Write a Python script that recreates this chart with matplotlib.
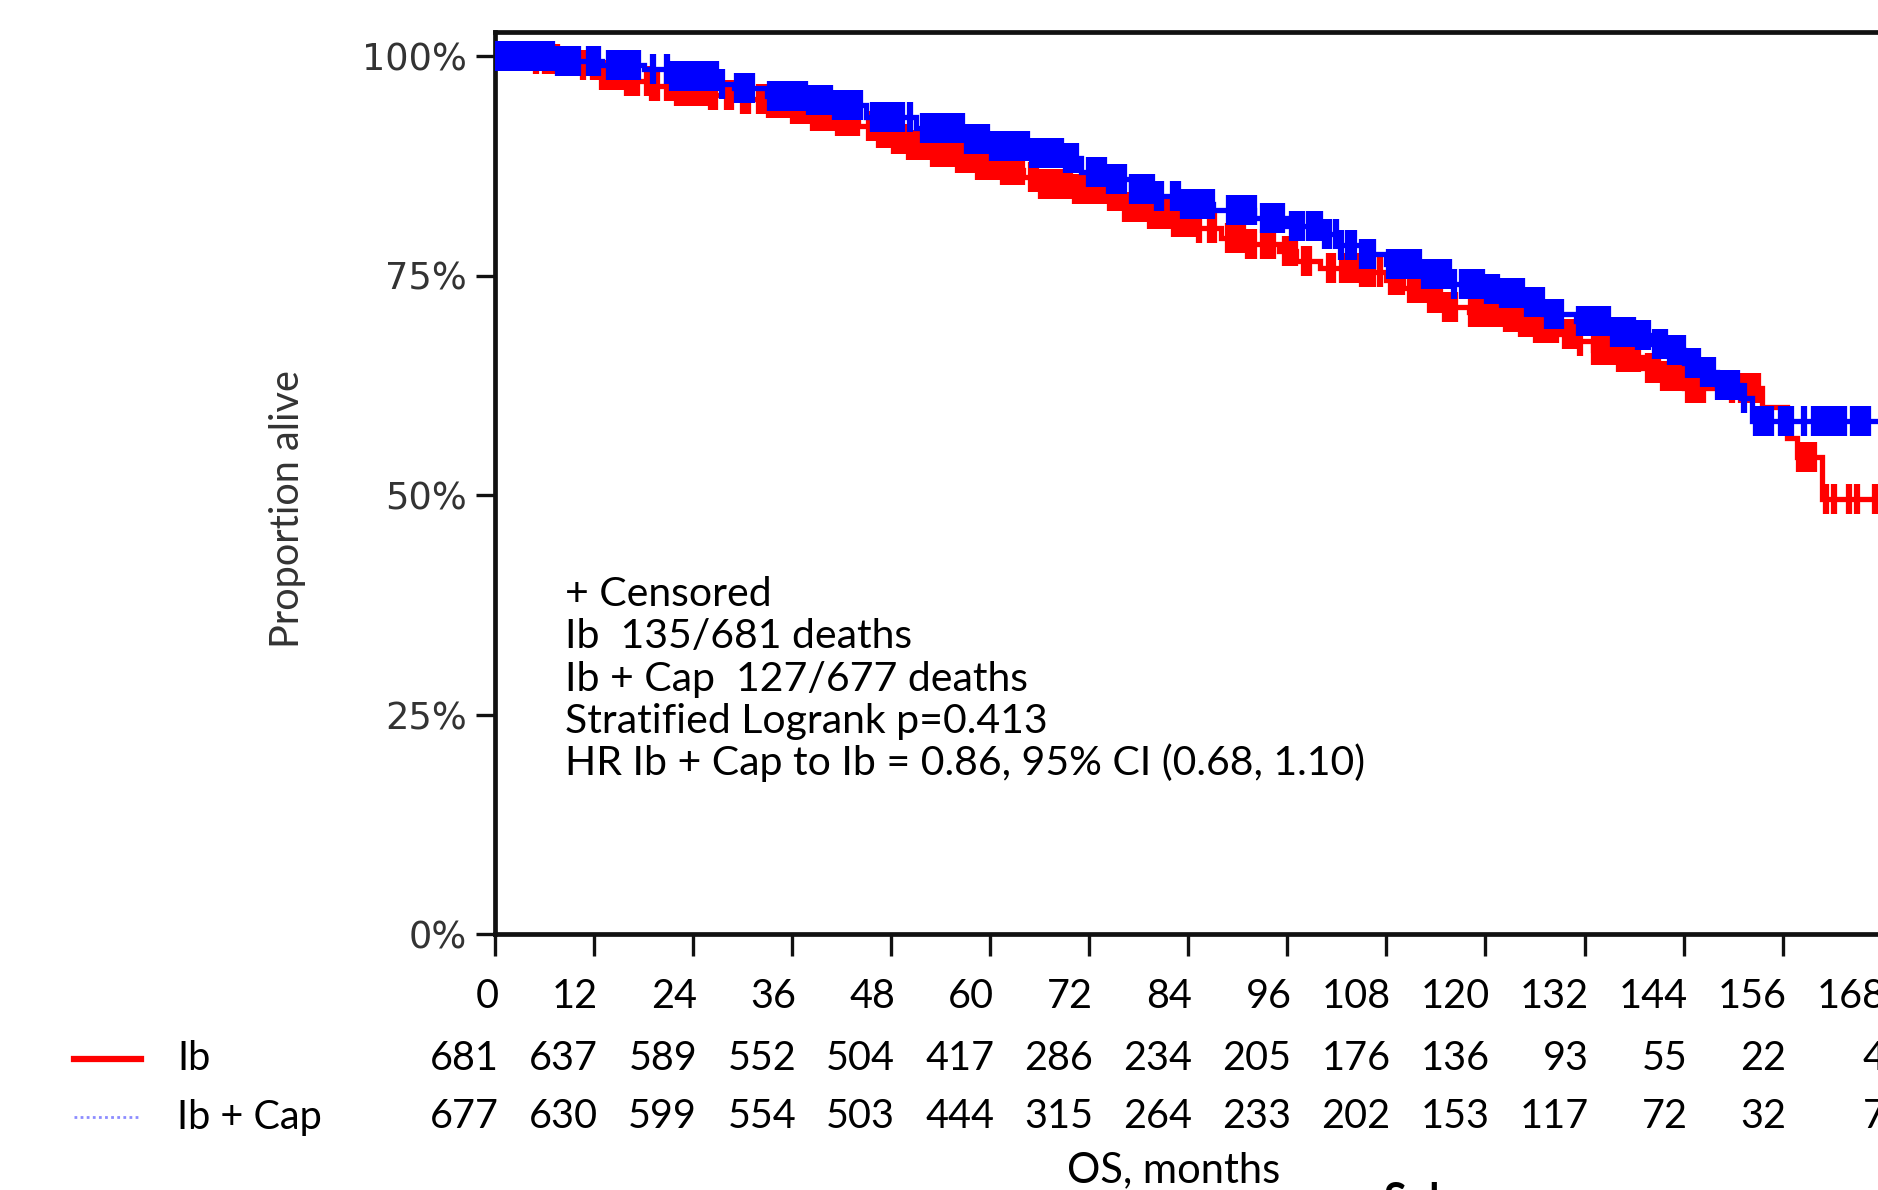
import numpy as np
import matplotlib
matplotlib.use('Agg')
import matplotlib.pyplot as plt
from matplotlib.lines import Line2D
from matplotlib.transforms import blended_transform_factory, ScaledTranslation

# figure is a crop of a bigger KM slide, right part is cut off
W, H = 1878, 1190

def fx(px):
    return px / W

def fy(py):
    return 1 - py / H

# ---- data ----
month_ticks = [0, 12, 24, 36, 48, 60, 72, 84, 96, 108, 120, 132, 144, 156, 168, 180]
risk_ib = [681, 637, 589, 552, 504, 417, 286, 234, 205, 176, 136, 93, 55, 22, 4]
risk_cap = [677, 630, 599, 554, 503, 444, 315, 264, 233, 202, 153, 117, 72, 32, 7]

# Ib: step times (months) and survival after each step
ib_t = [0, 5, 8, 13, 16, 19, 22, 26, 29, 33, 36, 38, 41, 44, 46, 48, 50, 53, 56, 58,
        61, 64, 66, 70, 74, 76, 79, 82, 85, 88, 91, 95, 97, 100, 105, 108, 110, 113,
        115, 118, 122, 124, 126, 129, 131, 133, 136, 139, 141, 144, 153.5, 156.5,
        157.8, 160.8]
ib_s = [1.0, 0.997, 0.99, 0.978, 0.972, 0.966, 0.96, 0.956, 0.951, 0.946, 0.94, 0.932,
        0.926, 0.92, 0.912, 0.906, 0.899, 0.891, 0.884, 0.876, 0.87, 0.862, 0.854, 0.849,
        0.84, 0.828, 0.82, 0.811, 0.804, 0.793, 0.786, 0.778, 0.767, 0.758, 0.754, 0.745,
        0.736, 0.724, 0.714, 0.708, 0.703, 0.697, 0.69, 0.683, 0.675, 0.665, 0.657, 0.645,
        0.635, 0.622, 0.60, 0.565, 0.543, 0.496]

# Ib + Cap
cap_t = [0, 7, 13, 18, 21, 27, 29, 33, 38, 41, 45, 51, 57, 60, 65, 69, 71, 74, 77, 80,
         83, 87, 92, 96, 100, 102, 105, 108, 112, 116, 120, 122, 125, 127, 131, 135, 138,
         140, 142, 144, 146, 148, 151, 152.3]
cap_s = [1.0, 0.994, 0.99, 0.985, 0.977, 0.968, 0.964, 0.955, 0.95, 0.944, 0.93, 0.918,
         0.905, 0.898, 0.89, 0.884, 0.868, 0.86, 0.848, 0.84, 0.832, 0.825, 0.815, 0.806,
         0.797, 0.785, 0.775, 0.763, 0.752, 0.74, 0.735, 0.73, 0.72, 0.706, 0.698, 0.686,
         0.682, 0.672, 0.665, 0.65, 0.64, 0.625, 0.61, 0.584]

# censoring times
ib_cens = [0.5, 1.4, 2.3, 3.2, 4.1, 5.0, 6.0, 6.8, 7.5, 10.7, 11.9, 12.4, 13.0, 13.6,
           14.2, 14.8, 15.4, 16.0, 16.6, 17.2, 18.4, 19.0, 19.6, 20.8, 21.4, 22.0, 22.6,
           23.2, 23.8, 24.4, 25.0, 25.6, 26.2, 26.7, 28.1, 28.6, 30.0, 30.7, 32.0, 32.6,
           33.2, 33.8, 34.4, 35.0, 35.5, 36.1, 36.7, 37.3, 37.9, 38.5, 39.1, 39.7, 40.3,
           40.9, 41.5, 42.1, 42.7, 43.3, 43.9, 45.3, 45.9, 46.5, 47.1, 47.7, 48.3, 48.9,
           49.5, 50.1, 50.7, 51.3, 51.9, 52.5, 53.1, 53.7, 54.3, 54.9, 55.5, 56.1, 56.7,
           57.3, 57.9, 58.5, 59.1, 59.7, 60.3, 60.9, 61.5, 62.1, 62.7, 63.3, 63.9, 64.9,
           65.5, 66.1, 66.7, 67.3, 67.9, 68.5, 69.1, 69.7, 70.3, 70.9, 71.5, 72.1, 72.7,
           73.3, 73.9, 74.5, 75.1, 75.7, 76.3, 76.9, 77.5, 78.1, 78.7, 79.3, 79.9, 80.5,
           81.1, 81.7, 82.3, 82.9, 83.5, 84.1, 84.7, 85.3, 86.6, 87.1, 88.8, 89.4, 90.0,
           90.6, 91.2, 91.9, 93.1, 93.7, 94.2, 95.7, 96.3, 96.9, 98.0, 98.6, 101.0, 101.5,
           102.6, 103.2, 103.8, 104.4, 105.0, 105.6, 106.4, 107.2, 108.6, 109.3, 109.9,
           110.8, 111.5, 112.0, 112.7, 113.3, 113.9, 114.5, 115.1, 115.7, 116.3, 118.3,
           118.9, 119.5, 120.1, 120.7, 121.3, 121.9, 122.5, 123.1, 123.7, 124.3, 124.9,
           125.5, 126.1, 126.7, 127.3, 127.9, 128.5, 129.6, 130.2, 130.8, 131.5, 133.2,
           133.8, 134.4, 135.0, 135.6, 136.2, 136.8, 137.4, 138.0, 138.5, 139.7, 140.3,
           140.9, 141.5, 142.1, 142.7, 143.3, 143.9, 144.5, 145.1, 145.7, 146.4, 149.9,
           151.0, 151.7, 152.3, 153.0, 158.0, 158.6, 159.2, 159.8, 161.2, 162.2, 164.0,
           165.0, 167.2]
cap_cens = [0.3, 0.9, 1.5, 2.1, 2.7, 3.3, 3.9, 4.5, 5.1, 5.7, 6.3, 6.9, 7.6, 8.2, 8.8,
            9.4, 10.0, 11.4, 12.0, 12.5, 13.8, 14.4, 15.0, 15.6, 16.2, 16.8, 17.3, 19.2,
            20.8, 21.4, 22.0, 22.6, 23.2, 23.8, 24.4, 25.0, 25.6, 26.2, 26.8, 27.5, 29.3,
            29.9, 30.5, 31.1, 33.3, 33.9, 34.5, 35.1, 35.7, 36.3, 36.9, 37.5, 38.1, 38.7,
            39.3, 40.0, 40.6, 41.2, 41.8, 42.4, 43.0, 43.6, 44.2, 45.8, 46.4, 47.0, 47.6,
            48.2, 48.8, 49.3, 50.3, 51.8, 52.4, 53.0, 53.6, 54.2, 54.8, 55.4, 56.0, 56.6,
            57.2, 57.8, 58.4, 59.0, 59.6, 60.2, 60.8, 61.4, 62.0, 62.6, 63.2, 63.8, 64.4,
            65.0, 65.6, 66.2, 66.8, 67.4, 68.0, 68.6, 69.2, 69.8, 70.4, 72.0, 72.6, 73.2,
            73.8, 74.4, 75.0, 75.6, 76.2, 77.2, 77.8, 78.4, 79.0, 79.6, 80.2, 80.7, 82.1,
            82.7, 83.3, 83.9, 84.5, 85.1, 85.7, 86.3, 86.9, 88.9, 89.5, 90.1, 90.7, 91.3,
            91.9, 93.0, 93.6, 94.2, 94.8, 95.4, 96.6, 97.2, 97.8, 98.6, 99.3, 99.9, 100.5,
            101.0, 101.9, 102.5, 103.4, 104.1, 105.0, 105.8, 106.4, 108.3, 108.9, 109.5,
            110.1, 110.7, 111.3, 111.9, 112.6, 113.2, 113.8, 114.4, 115.0, 115.6, 116.2,
            117.2, 117.8, 118.4, 119.0, 119.6, 120.2, 120.8, 121.4, 122.0, 122.6, 123.2,
            123.8, 124.4, 125.0, 125.6, 126.2, 126.8, 127.4, 128.0, 128.6, 129.1, 131.3,
            131.9, 132.5, 133.1, 133.7, 134.3, 134.9, 135.5, 136.1, 136.7, 137.3, 137.9,
            138.5, 139.1, 139.7, 140.5, 141.1, 141.7, 142.3, 142.9, 143.4, 143.9, 144.5,
            145.1, 145.7, 146.3, 147.0, 147.6, 148.2, 148.8, 149.4, 150.0, 150.5, 151.3,
            152.8, 153.4, 154.0, 154.6, 155.8, 156.4, 157.0, 158.6, 159.8, 160.4, 161.0,
            161.6, 162.2, 162.8, 163.4, 164.5, 165.1, 165.7, 166.3]

stats_lines = ['+ Censored',
               'Ib  135/681 deaths',
               'Ib + Cap  127/677 deaths',
               'Stratified Logrank p=0.413',
               'HR Ib + Cap to Ib = 0.86, 95% CI (0.68, 1.10)']

RED = '#ff0000'
BLUE = '#0000ff'
FONT = 'Lato'
t_end = 172

fig = plt.figure(figsize=(W / 100, H / 100), dpi=100)
px_per_month = 8.254
ax = fig.add_axes([fx(495), fy(934), 180 * px_per_month / W, (934 - 32) / H])
ax.set_xlim(0, 180)
ax.set_ylim(0, 1 + 24 / 878)


def surv_at(times, surv, when):
    idx = np.searchsorted(times, when, side='right') - 1
    return np.asarray(surv)[idx]


for t, s, cens, col in [(ib_t, ib_s, ib_cens, RED), (cap_t, cap_s, cap_cens, BLUE)]:
    ax.step(list(t) + [t_end], list(s) + [s[-1]], where='post', color=col, lw=3.8,
            solid_joinstyle='miter', zorder=3)
    ax.plot(cens, surv_at(t, s, cens), ls='none', marker='|', ms=21, mew=4.5,
            color=col, zorder=3)

# spines / ticks
for side in ['left', 'top', 'bottom', 'right']:
    ax.spines[side].set_linewidth(3.4)
    ax.spines[side].set_color('#111111')
ax.set_yticks([0, 0.25, 0.5, 0.75, 1.0])
ax.set_yticklabels(['0%', '25%', '50%', '75%', '100%'], fontsize=26.5,
                   family='DejaVu Sans', color='#333333')
ax.tick_params(axis='y', length=14, width=2.4, pad=6, color='#111111')
ax.set_xticks(month_ticks)
ax.set_xticklabels([])
ax.tick_params(axis='x', length=16, width=2.4, color='#111111')

# x tick labels and numbers at risk, right aligned at each tick
tr = blended_transform_factory(ax.transData, fig.transFigure)
shift = ScaledTranslation(4 / 100, 0, fig.dpi_scale_trans)
for i, m in enumerate(month_ticks):
    ax.text(m, fy(997), str(m), transform=tr + shift, ha='right', va='center',
            fontsize=28.5, family=FONT, clip_on=False)
    if i < len(risk_ib):
        ax.text(m, fy(1059), str(risk_ib[i]), transform=tr + shift, ha='right',
                va='center', fontsize=28.5, family=FONT, clip_on=False)
        ax.text(m, fy(1117), str(risk_cap[i]), transform=tr + shift, ha='right',
                va='center', fontsize=28.5, family=FONT, clip_on=False)

# stats box text
for i, line in enumerate(stats_lines):
    fig.text(fx(565), fy(595 + 42 * i), line, ha='left', va='center', fontsize=29.5,
             family=FONT)

fig.text(fx(287), fy(509), 'Proportion alive', rotation=90, ha='center', va='center',
         fontsize=28.5, family=FONT, color='#333333')
fig.text(fx(1174), fy(1170), 'OS, months', ha='center', va='center', fontsize=30,
         family=FONT)
fig.text(fx(1383), fy(1182), 'Subgroup', ha='left', va='top', fontsize=30,
         family=FONT, fontweight='bold')

# legend for the risk table
fig.add_artist(Line2D([fx(74), fx(141)], [fy(1059), fy(1059)], color=RED, lw=4.5))
fig.add_artist(Line2D([fx(74), fx(141)], [fy(1117), fy(1117)], color='#8c8cff',
                      lw=2, ls=(0, (1, 1.2))))
fig.text(fx(177), fy(1059), 'Ib', ha='left', va='center', fontsize=28.5, family=FONT)
fig.text(fx(177), fy(1117), 'Ib + Cap', ha='left', va='center', fontsize=28.5,
         family=FONT)

fig.savefig('out.png', dpi=100)
